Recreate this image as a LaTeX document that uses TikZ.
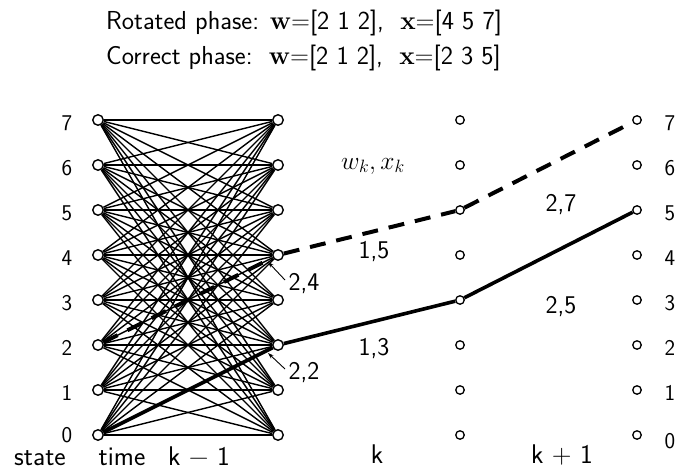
\documentclass[tikz,border=0pt]{standalone}
\usepackage{fix-cm}
\usepackage{fontspec}
\usetikzlibrary{arrows.meta}
\newcommand{\bw}{{\rmfamily\bfseries w}}
\newcommand{\bx}{{\rmfamily\bfseries x}}
\begin{document}
\begin{tikzpicture}[x=1pt,y=-1pt,
  bigc/.style={circle,draw,line width=1.4pt,fill=white,inner sep=0pt,minimum size=10.5pt},
  smallc/.style={circle,draw,line width=1.3pt,fill=white,inner sep=0pt,minimum size=8.5pt},
  lat/.style={line width=1.4pt},
  path/.style={line width=3.6pt},
  dpath/.style={line width=4pt,dash pattern=on 16pt off 11pt},
  lbl/.style={font=\sffamily\fontsize{22.5}{24}\selectfont,inner sep=0pt},
  mid/.style={font=\sffamily\fontsize{25.5}{28}\selectfont,inner sep=0pt},
  big/.style={font=\sffamily\fontsize{27}{30}\selectfont,inner sep=0pt},
  ttl/.style={font=\sffamily\fontsize{26}{30}\selectfont,inner sep=0pt},
  ptr/.style={line width=0.9pt,-{Stealth[length=6pt,width=4pt]}}]
\useasboundingbox (0,0) rectangle (676,470);
% title
\node[ttl,anchor=base west] (t1) at (106,30) {Rotated phase: \bw=[2 1 2], \ \bx=[4 5 7]};
\node[ttl,anchor=base west] (t2) at (106,65) {Correct phase:\ \ \bw=[2 1 2], \ \bx=[2 3 5]};
% lattice nodes
\foreach \s in {0,...,7}{
  \pgfmathsetmacro{\yy}{435-45*\s}
  \node[bigc] (L\s) at (98,\yy) {};
  \node[bigc] (R\s) at (278,\yy) {};
  \node[smallc] (M\s) at (460,\yy) {};
  \node[smallc] (F\s) at (637,\yy) {};
}
\foreach \s in {1,...,7}{
  \pgfmathsetmacro{\yy}{438-45*\s}
  \node[lbl] (ls\s) at (67,\yy) {\s};
  \node[lbl] (rs\s) at (670,\yy) {\s};
}
\node[lbl] (ls0) at (67,435) {0};
\node[lbl] (rs0) at (670,441) {0};
\foreach \i in {0,...,7}{
  \foreach \j in {0,...,7}{
    \draw[lat] (L\i) -- (R\j);
  }
}
% paths
\draw[path] (L0) -- (R2);
\draw[path] (R2) -- (M3) -- (F5);
\draw[dpath] (L2) -- (R4);
\draw[dpath] (R4) -- (M5) -- (F7);
% labels
\node[mid] (wx) at (373,166) {$w_k, x_k$};
\node[mid] (a15) at (374,252) {1,5};
\node[mid] (a13) at (374,349) {1,3};
\node[mid] (a27) at (561,205) {2,7};
\node[mid] (a25) at (561,307) {2,5};
\node[mid] (b24) at (304,284) {2,4};
\node[mid] (b22) at (304,373) {2,2};
\coordinate (p24) at (268,262);
\coordinate (p22) at (268,353);
\coordinate (q24) at (285,280);
\coordinate (q22) at (285,369);
\draw[ptr] (q24) -- (p24);
\draw[ptr] (q22) -- (p22);
% bottom
\node[big,anchor=base] (st) at (40,465) {state};
\node[big,anchor=base] (tm) at (122,465) {time};
\node[big,anchor=base] (km1) at (199,465) {k − 1};
\node[big,anchor=base] (k) at (377,463) {k};
\node[big,anchor=base] (kp1) at (562,463) {k + 1};
\end{tikzpicture}
\end{document}
